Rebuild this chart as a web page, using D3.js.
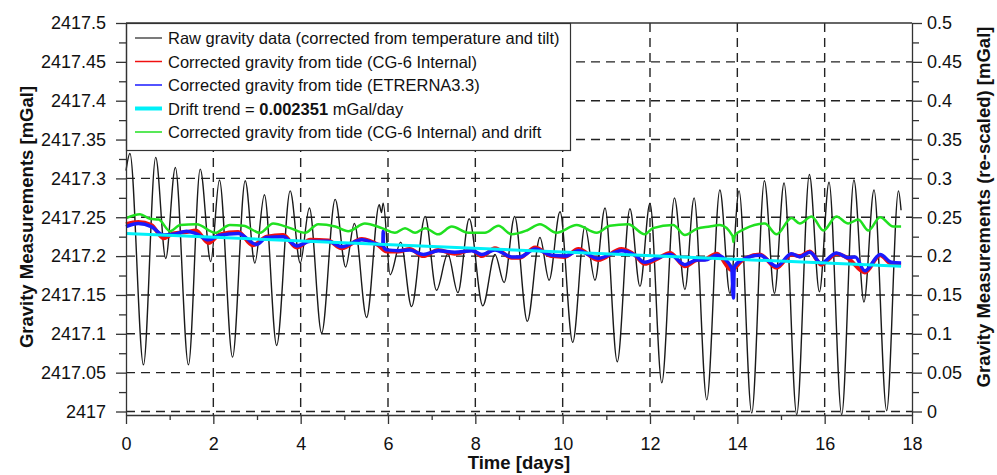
<!DOCTYPE html>
<html>
<head>
<meta charset="utf-8">
<script src="https://cdn.jsdelivr.net/npm/d3@7"></script>
<style>
  body { margin: 0; background: #fff; }
  svg text { font-family: "Liberation Sans", Arial, sans-serif; fill: #111; }
</style>
</head>
<body>
<div id="chart"></div>
<script>
// raw gravity (tidal peaks / troughs)
var rawDays = [0, 0.09, 0.40, 0.68, 0.91, 1.13, 1.43, 1.70, 1.94, 2.14, 2.44, 2.73, 2.95, 3.17, 3.45, 3.76, 3.99, 4.20,
  4.48, 4.79, 5.03, 5.23, 5.51, 5.80, 5.85, 5.89, 6.05, 6.29, 6.54, 6.85, 7.11, 7.37, 7.60, 7.86, 8.17, 8.45, 8.66, 8.90,
  9.19, 9.48, 9.69, 9.94, 10.23, 10.51, 10.74, 10.97, 11.25, 11.54, 11.77, 12.00, 12.27, 12.56, 12.80, 13.01,
  13.30, 13.60, 13.83, 14.04, 14.33, 14.62, 14.85, 15.07, 15.36, 15.65, 15.88, 16.10, 16.39, 16.67, 16.90, 17.13,
  17.42, 17.69, 17.75];
var rawGravity = [2417.310, 2417.332, 2417.060, 2417.327, 2417.197, 2417.314, 2417.060, 2417.312, 2417.193, 2417.298,
  2417.070, 2417.297, 2417.191, 2417.279, 2417.085, 2417.284, 2417.191, 2417.262,
  2417.101, 2417.273, 2417.186, 2417.242, 2417.121, 2417.266, 2417.256, 2417.268, 2417.176, 2417.218, 2417.135,
  2417.251, 2417.156, 2417.203, 2417.153, 2417.248, 2417.136, 2417.202, 2417.166, 2417.251,
  2417.116, 2417.224, 2417.169, 2417.257, 2417.089, 2417.238, 2417.169, 2417.262, 2417.064, 2417.261, 2417.161,
  2417.268, 2417.037, 2417.275, 2417.157, 2417.275,
  2417.015, 2417.285, 2417.152, 2417.284, 2416.998, 2417.297, 2417.152, 2417.294, 2416.996, 2417.305, 2417.154,
  2417.295, 2416.996, 2417.298, 2417.141, 2417.285,
  2417.001, 2417.284, 2417.259];

// corrected from tide (CG-6 internal)
var redDays = [0, 0.28, 0.58, 0.86, 1.08, 1.39, 1.60, 1.89, 2.15, 2.57, 2.90, 3.22, 3.60, 3.91, 4.22, 4.63, 4.94, 5.40,
  5.78, 5.97, 6.24, 6.50, 6.81, 7.15, 7.53, 7.92, 8.15, 8.45, 8.83, 9.02, 9.37, 9.75, 10.05, 10.36, 10.81, 11.35,
  11.66, 11.88, 12.15, 12.46, 12.80, 13.07, 13.26, 13.53, 13.87, 14.10, 14.52, 14.90, 15.24, 15.43, 15.66, 15.92,
  16.27, 16.54, 16.92, 17.27, 17.53, 17.75];
var redGravity = [2417.241, 2417.244, 2417.240, 2417.223, 2417.229, 2417.231, 2417.233, 2417.217, 2417.228, 2417.231,
  2417.214, 2417.225, 2417.227, 2417.211, 2417.221, 2417.220, 2417.210, 2417.222,
  2417.214, 2417.206, 2417.206, 2417.209, 2417.200, 2417.208, 2417.203, 2417.208, 2417.200, 2417.210, 2417.198,
  2417.198, 2417.211, 2417.200, 2417.199, 2417.209, 2417.195, 2417.209,
  2417.201, 2417.190, 2417.196, 2417.204, 2417.187, 2417.195, 2417.196, 2417.203, 2417.182, 2417.194, 2417.202,
  2417.185, 2417.202, 2417.200, 2417.206, 2417.189,
  2417.203, 2417.197, 2417.179, 2417.201, 2417.190, 2417.189];

// corrected from tide (ETRERNA3.3)
var blueDays = [0, 0.28, 0.58, 0.86, 1.08, 1.39, 1.60, 1.89, 2.15, 2.57, 2.99, 3.22, 3.60, 3.91, 4.22, 4.63, 4.94, 5.40,
  5.78, 5.88, 5.89, 5.90, 5.97, 6.24, 6.50, 6.81, 7.15, 7.53, 7.92, 8.15, 8.45, 8.83, 9.02, 9.37, 9.75, 10.05, 10.36,
  10.81, 11.35, 11.66, 11.88, 12.15, 12.46, 12.80, 13.07, 13.26, 13.53, 13.87, 13.91, 13.93, 14.10, 14.52, 14.90,
  15.24, 15.43, 15.66, 15.92, 16.27, 16.54, 16.70, 16.92, 17.27, 17.53, 17.75];
var blueGravity = [2417.238, 2417.242, 2417.238, 2417.227, 2417.228, 2417.232, 2417.229, 2417.221, 2417.227, 2417.229,
  2417.215, 2417.224, 2417.225, 2417.213, 2417.219, 2417.219, 2417.212, 2417.221,
  2417.215, 2417.214, 2417.232, 2417.212, 2417.208, 2417.207, 2417.208, 2417.202, 2417.207, 2417.205, 2417.207,
  2417.202, 2417.208, 2417.199, 2417.199, 2417.209, 2417.201, 2417.200, 2417.207,
  2417.197, 2417.207, 2417.201, 2417.192, 2417.197, 2417.202, 2417.189, 2417.195, 2417.195, 2417.201, 2417.185,
  2417.146, 2417.186, 2417.195, 2417.201, 2417.187,
  2417.203, 2417.199, 2417.205, 2417.191, 2417.204, 2417.198, 2417.199, 2417.181, 2417.202, 2417.192, 2417.191];

// drift trend (straight line)
var driftDays = [0, 17.75];
var driftGravity = [2417.229, 2417.187];

// corrected from tide and drift
var greenDays = [0, 0.32, 0.55, 0.75, 1.01, 1.24, 1.62, 2.04, 2.38, 2.69, 3.07, 3.37, 3.76, 4.10, 4.40, 4.79, 5.09,
  5.47, 5.86, 6.16, 6.39, 6.62, 6.85, 7.15, 7.46, 7.84, 8.22, 8.53, 8.83, 9.18, 9.48, 9.86, 10.32, 10.78, 11.08,
  11.50, 11.88, 12.07, 12.53, 12.80, 13.07, 13.37, 13.60, 13.89, 13.91, 13.93, 14.17, 14.63, 14.90, 15.24, 15.43,
  15.70, 15.97, 16.27, 16.54, 16.77, 17.00, 17.27, 17.57, 17.75];
var greenGravity = [2417.249, 2417.254, 2417.248, 2417.247, 2417.232, 2417.240, 2417.241, 2417.230, 2417.240, 2417.239,
  2417.230, 2417.242, 2417.236, 2417.230, 2417.241, 2417.238, 2417.232,
  2417.242, 2417.236, 2417.230, 2417.236, 2417.230, 2417.236, 2417.228, 2417.238, 2417.230, 2417.230, 2417.239,
  2417.228, 2417.233, 2417.241, 2417.230, 2417.240, 2417.230, 2417.239,
  2417.241, 2417.228, 2417.236, 2417.240, 2417.227, 2417.235, 2417.238, 2417.240, 2417.226, 2417.218, 2417.226,
  2417.235, 2417.242, 2417.228, 2417.249, 2417.242,
  2417.251, 2417.233, 2417.251, 2417.242, 2417.247, 2417.233, 2417.250, 2417.238, 2417.238];

var xTicks = [0, 2, 4, 6, 8, 10, 12, 14, 16, 18];
var xMinor = [1, 3, 5, 7, 9, 11, 13, 15, 17];
var yTicks = [2417, 2417.05, 2417.1, 2417.15, 2417.2, 2417.25, 2417.3, 2417.35, 2417.4, 2417.45, 2417.5];
var yMinor = [2417.025, 2417.075, 2417.125, 2417.175, 2417.225, 2417.275, 2417.325, 2417.375, 2417.425, 2417.475];
var y2Ticks = [0, 0.05, 0.1, 0.15, 0.2, 0.25, 0.3, 0.35, 0.4, 0.45, 0.5];

var legendItems = [
  {label: "Raw gravity data (corrected from temperature and tilt)", color: "#222", w: 1.2},
  {label: "Corrected gravity from tide (CG-6 Internal)", color: "#f01010", w: 1.5},
  {label: "Corrected gravity from tide (ETRERNA3.3)", color: "#1a1aff", w: 1.5},
  {label: "Drift trend = ", bold: "0.002351", rest: " mGal/day", color: "#00f0f8", w: 4},
  {label: "Corrected gravity from tide (CG-6 Internal) and drift", color: "#20e020", w: 1.5}
];

var W = 997, H = 475;
var pLeft = 126, pRight = 912, pTop = 23, pBottom = 415;

var svg = d3.select("#chart").append("svg").attr("width", W).attr("height", H);

var x = d3.scaleLinear().domain([0, 18]).range([pLeft, pRight]);
var y = d3.scaleLinear().domain([2416.9955, 2417.5]).range([pBottom, pTop]);
var y2 = d3.scaleLinear().domain([-0.0045, 0.5]).range([pBottom, pTop]);

// dashed grid
var grid = svg.append("g").attr("stroke", "#222").attr("stroke-width", 1.4).attr("stroke-dasharray", "9,6");
grid.selectAll("line.h").data(yTicks.slice(0, -1)).enter().append("line")
  .attr("x1", pLeft).attr("x2", pRight)
  .attr("y1", function(d) { return y(d); }).attr("y2", function(d) { return y(d); });
grid.selectAll("line.v").data(xTicks.slice(1, -1)).enter().append("line")
  .attr("y1", pTop).attr("y2", pBottom)
  .attr("x1", function(d) { return x(d); }).attr("x2", function(d) { return x(d); });

function series(days, vals) {
  return days.map(function(d, i) { return [d, vals[i]]; });
}
var line = d3.line()
  .x(function(d) { return x(d[0]); })
  .y(function(d) { return y(d[1]); })
  .curve(d3.curveMonotoneX);

svg.append("path").attr("d", line(series(rawDays, rawGravity)))
  .attr("fill", "none").attr("stroke", "#1a1a1a").attr("stroke-width", 1.4);
svg.append("path").attr("d", line(series(redDays, redGravity)))
  .attr("fill", "none").attr("stroke", "#f01010").attr("stroke-width", 4);
svg.append("path").attr("d", line(series(blueDays, blueGravity)))
  .attr("fill", "none").attr("stroke", "#1a1aff").attr("stroke-width", 3.5);
svg.append("path").attr("d", d3.line().x(function(d) { return x(d[0]); }).y(function(d) { return y(d[1]); })(series(driftDays, driftGravity)))
  .attr("fill", "none").attr("stroke", "#00f0f8").attr("stroke-width", 3);
svg.append("path").attr("d", line(series(greenDays, greenGravity)))
  .attr("fill", "none").attr("stroke", "#20e020").attr("stroke-width", 2.5);

// legend
var lg = svg.append("g");
lg.append("rect").attr("x", pLeft + 0.5).attr("y", pTop + 0.5).attr("width", 444).attr("height", 127)
  .attr("fill", "#fff").attr("stroke", "#333").attr("stroke-width", 1.2);
legendItems.forEach(function(it, i) {
  var cy = 38 + i * 23.5;
  lg.append("line").attr("x1", 135).attr("x2", 162).attr("y1", cy).attr("y2", cy)
    .attr("stroke", it.color).attr("stroke-width", it.w);
  var t = lg.append("text").attr("x", 168).attr("y", cy + 6).style("font-size", "16.5px").text(it.label);
  if (it.bold) {
    t.append("tspan").style("font-weight", "bold").text(it.bold);
    t.append("tspan").text(it.rest);
  }
});

// axes
var fmt = function(d) { return String(+d.toFixed(3)); };
function styleAxis(g) {
  g.selectAll("path, line").attr("stroke", "#333").attr("stroke-width", 1.3);
  g.selectAll("text").style("font-size", "18px").attr("fill", "#111");
}
svg.append("g").attr("transform", "translate(" + pLeft + ",0)")
  .call(d3.axisLeft(y).tickValues(yTicks).tickSize(10).tickSizeOuter(0).tickPadding(10).tickFormat(fmt))
  .call(styleAxis);
svg.append("g").attr("transform", "translate(" + pLeft + ",0)")
  .call(d3.axisLeft(y).tickValues(yMinor).tickSize(7).tickFormat(""))
  .call(styleAxis).select(".domain").remove();

svg.append("g").attr("transform", "translate(" + pRight + ",0)")
  .call(d3.axisRight(y2).tickValues(y2Ticks).tickSize(10).tickSizeOuter(0).tickPadding(5).tickFormat(fmt))
  .call(styleAxis);
svg.append("g").attr("transform", "translate(" + pRight + ",0)")
  .call(d3.axisRight(y2).tickValues(yMinor.map(function(d) { return +(d - 2417).toFixed(3); })).tickSize(7).tickFormat(""))
  .call(styleAxis).select(".domain").remove();

svg.append("g").attr("transform", "translate(0," + pBottom + ")")
  .call(d3.axisBottom(x).tickValues(xTicks).tickSize(9).tickSizeOuter(0).tickPadding(13).tickFormat(d3.format("d")))
  .call(styleAxis);
svg.append("g").attr("transform", "translate(0," + pBottom + ")")
  .call(d3.axisBottom(x).tickValues(xMinor).tickSize(5).tickFormat(""))
  .call(styleAxis).select(".domain").remove();

// top frame
svg.append("line").attr("x1", pLeft).attr("x2", pRight).attr("y1", pTop).attr("y2", pTop)
  .attr("stroke", "#333").attr("stroke-width", 1.3);

// titles
svg.append("text").attr("transform", "translate(33,217) rotate(-90)")
  .attr("text-anchor", "middle").style("font-size", "18.5px").style("font-weight", "bold")
  .text("Gravity Measurements [mGal]");
svg.append("text").attr("transform", "translate(990,207) rotate(-90)")
  .attr("text-anchor", "middle").style("font-size", "18.5px").style("font-weight", "bold")
  .text("Gravity Measurements (re-scaled) [mGal]");
svg.append("text").attr("x", (pLeft + pRight) / 2).attr("y", 469)
  .attr("text-anchor", "middle").style("font-size", "18.5px").style("font-weight", "bold")
  .text("Time [days]");
</script>
</body>
</html>
